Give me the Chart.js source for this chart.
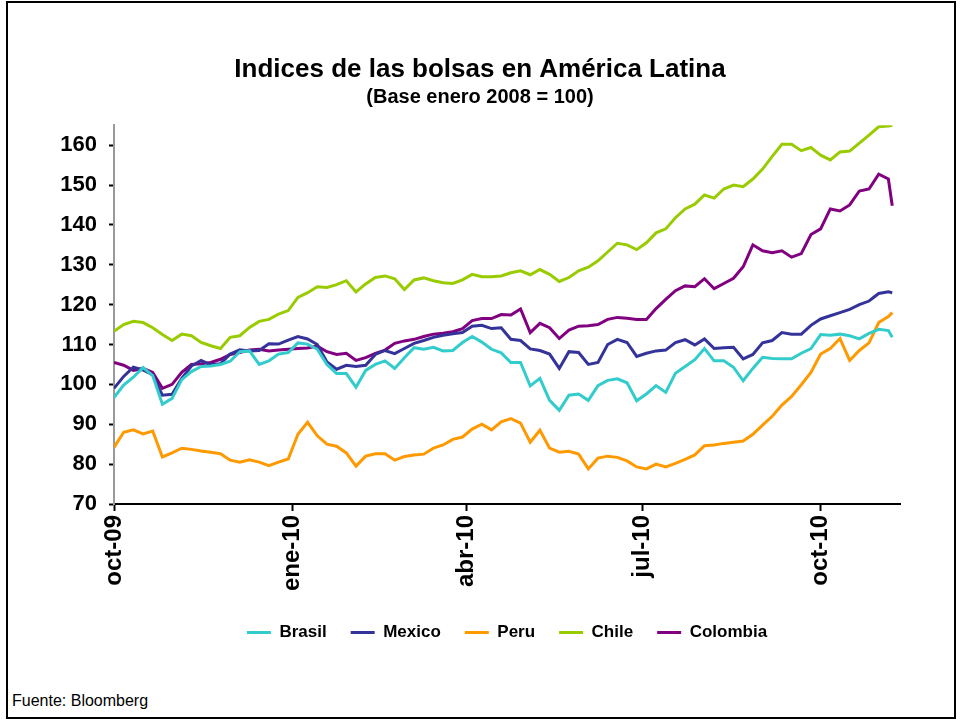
<!DOCTYPE html>
<html>
<head>
<meta charset="utf-8">
<script src="https://cdn.jsdelivr.net/npm/chart.js@4.4.0/dist/chart.umd.min.js"></script>
<style>
    html, body { margin: 0; padding: 0; background: #fff; }
    #marco { position: absolute; left: 6px; top: 1px; width: 946px; height: 714px; border: 2px solid #000; }
    #caja { position: absolute; left: 0; top: 0; width: 960px; height: 651px; }
    #fuente { position: absolute; left: 12px; top: 692px; font: 16px "Liberation Sans", Arial, sans-serif; color: #000; }
</style>
</head>
<body>
<div id="marco"></div>
<div id="caja"><canvas id="grafico" width="960" height="651"></canvas></div>
<div id="fuente">Fuente: Bloomberg</div>
<script>
// dias desde el 1 de octubre de 2009
const dias = [0, 5, 10, 15, 20, 25, 30, 35, 40, 45, 50, 55, 60, 65, 70, 75, 80, 85, 90, 95,
    100, 105, 110, 115, 120, 125, 130, 135, 140, 145, 150, 155, 160, 165, 170, 175, 180, 185, 190, 195,
    200, 205, 210, 215, 220, 225, 230, 235, 240, 245, 250, 255, 260, 265, 270, 275, 280, 285, 290, 295,
    300, 305, 310, 315, 320, 325, 330, 335, 340, 345, 350, 355, 360, 365, 370, 375, 380, 385, 390, 395,
    400, 402];

const diasEtiqueta = [0, 92, 182, 273, 365];
const etiquetasFecha = ['oct-09', 'ene-10', 'abr-10', 'jul-10', 'oct-10'];

const brasil = [96.7, 99.8, 101.8, 104.2, 102.2, 95, 96.5, 101.2, 103.2, 104.5,
    104.6, 105, 105.8, 108.2, 108.4, 105, 105.9, 107.6, 108, 110.4,
    110.1, 108.8, 105, 102.7, 102.7, 99.3, 103.5, 105, 105.9, 104,
    106.7, 109.2, 108.8, 109.3, 108.4, 108.5, 110.5, 112, 110.6, 108.8,
    107.9, 105.5, 105.5, 99.6, 101.5, 96, 93.5, 97.3, 97.6, 96,
    99.7, 101, 101.4, 100.4, 95.9, 97.6, 99.7, 98, 102.8, 104.5,
    106.2, 109, 105.9, 105.9, 104.3, 100.9, 104, 106.8, 106.5, 106.4,
    106.4, 107.8, 109, 112.5, 112.3, 112.6, 112.2, 111.4, 112.8, 113.8,
    113.5, 111.8];

const mexico = [99, 102, 104.3, 103.6, 102.4, 97.3, 97.5, 101.5, 104.6, 106,
    104.9, 105.2, 107.6, 108.7, 108.4, 108.5, 110.2, 110.1, 111.1, 112,
    111.4, 110, 105.6, 103.8, 104.8, 104.5, 104.8, 107.5, 108.5, 107.7,
    109, 110.3, 111, 111.8, 112.3, 112.7, 113, 114.6, 114.8, 114,
    114.2, 111.3, 111, 108.9, 108.5, 107.6, 104, 108.2, 108, 105,
    105.5, 110, 111.3, 110.5, 107, 107.8, 108.4, 108.6, 110.5, 111.2,
    109.9, 111.4, 109, 109.2, 109.3, 106.4, 107.5, 110.4, 111, 113,
    112.6, 112.6, 114.8, 116.4, 117.2, 118, 118.8, 120, 120.9, 122.8,
    123.2, 123];

const peru = [84.2, 88, 88.6, 87.6, 88.3, 81.8, 82.8, 84, 83.7, 83.3,
    83, 82.6, 81, 80.5, 81.1, 80.5, 79.6, 80.5, 81.3, 87.5,
    90.5, 87.1, 85, 84.5, 82.8, 79.5, 82, 82.6, 82.6, 81,
    81.9, 82.3, 82.5, 84, 84.8, 86.2, 86.8, 88.8, 90, 88.6,
    90.6, 91.4, 90.3, 85.5, 88.5, 84, 83, 83.2, 82.5, 78.8,
    81.5, 82, 81.7, 80.8, 79.3, 78.8, 80, 79.3, 80.2, 81.2,
    82.3, 84.6, 84.8, 85.2, 85.5, 85.8, 87.5, 89.8, 92, 94.8,
    97, 99.9, 103, 107.6, 109, 111.5, 106, 108.5, 110.4, 115.5,
    117, 118];

const chile = [113.3, 115, 115.8, 115.5, 114.2, 112.5, 111, 112.6, 112.2, 110.5,
    109.7, 109, 111.8, 112.2, 114.3, 115.8, 116.3, 117.6, 118.5, 121.8,
    123, 124.5, 124.3, 125, 126, 123.2, 125.2, 126.8, 127.2, 126.5,
    123.8, 126.2, 126.7, 126, 125.5, 125.3, 126.2, 127.6, 127, 127,
    127.2, 128, 128.5, 127.5, 128.8, 127.6, 125.8, 126.8, 128.5, 129.4,
    131, 133.2, 135.4, 135, 133.8, 135.5, 138, 139, 141.8, 144,
    145.2, 147.5, 146.7, 149, 150, 149.6, 151.5, 154, 157.2, 160.2,
    160.2, 158.6, 159.4, 157.5, 156.3, 158.3, 158.5, 160.5, 162.5, 164.6,
    164.8, 165];

const colombia = [105.5, 104.8, 103.5, 104, 103, 99, 100, 103, 105, 105.2,
    105.5, 106.3, 107.5, 108, 108.6, 108.8, 108.4, 108.6, 108.8, 109,
    109.1, 109.6, 108.2, 107.5, 107.8, 106, 106.7, 107.8, 108.6, 110.3,
    110.9, 111.3, 112, 112.6, 112.8, 113.2, 114, 116, 116.5, 116.5,
    117.5, 117.4, 118.9, 113, 115.3, 114.2, 111.5, 113.6, 114.6, 114.7,
    115, 116.3, 116.8, 116.6, 116.3, 116.3, 119, 121.3, 123.5, 124.7,
    124.5, 126.5, 124, 125.3, 126.6, 129.5, 135, 133.5, 133, 133.5,
    131.9, 132.8, 137.6, 139, 144, 143.5, 145, 148.5, 149, 152.7,
    151.5, 144.8];

const nombres = ['Brasil', 'Mexico', 'Peru', 'Chile', 'Colombia'];
const colores = ['#33cccc', '#333399', '#ff9900', '#99cc00', '#800080'];
const valores = [brasil, mexico, peru, chile, colombia];

Chart.defaults.font.family = '"Liberation Sans", Arial, sans-serif';
Chart.defaults.color = '#000';

const datasets = nombres.map((nombre, i) => ({
    label: nombre,
    data: dias.map((d, j) => ({ x: d, y: valores[i][j] })),
    borderColor: colores[i],
    backgroundColor: colores[i],
    borderWidth: 3,
    pointRadius: 0,
    tension: 0,
    fill: false
}));

const ctx = document.getElementById('grafico').getContext('2d');

new Chart(ctx, {
    type: 'line',
    data: { datasets: datasets },
    options: {
        responsive: false,
        animation: false,
        layout: {
            padding: { left: 60, right: 60, top: 0, bottom: 0 }
        },
        plugins: {
            title: {
                display: true,
                text: 'Indices de las bolsas en América Latina',
                font: { size: 26, weight: 'bold' },
                padding: { top: 54, bottom: 0 }
            },
            subtitle: {
                display: true,
                text: '(Base enero 2008 = 100)',
                font: { size: 20, weight: 'bold' },
                padding: { top: 0, bottom: 16 }
            },
            legend: {
                position: 'bottom',
                fullSize: false,
                labels: {
                    usePointStyle: true,
                    pointStyle: 'line',
                    pointStyleWidth: 24,
                    font: { size: 17, weight: 'bold' },
                    padding: 24
                }
            },
            tooltip: { enabled: false }
        },
        scales: {
            x: {
                type: 'linear',
                min: 0,
                max: 406,
                afterBuildTicks: function(scale) {
                    scale.ticks = diasEtiqueta.map(v => ({ value: v }));
                },
                afterFit: function(scale) {
                    scale.height = 96;
                },
                ticks: {
                    autoSkip: false,
                    minRotation: 90,
                    maxRotation: 90,
                    padding: 4,
                    font: { size: 24, weight: 'bold' },
                    callback: function(value, index) {
                        return etiquetasFecha[index];
                    }
                },
                grid: {
                    drawOnChartArea: false,
                    tickLength: 7,
                    tickColor: '#000',
                    tickWidth: 2
                },
                border: { color: '#000', width: 2 }
            },
            y: {
                min: 70,
                max: 165,
                afterFit: function(scale) {
                    scale.width = 54;
                },
                ticks: {
                    stepSize: 10,
                    includeBounds: false,
                    padding: 12,
                    font: { size: 22, weight: 'bold' }
                },
                grid: {
                    drawOnChartArea: false,
                    tickLength: 5,
                    tickColor: '#000',
                    tickWidth: 2
                },
                border: { color: '#999', width: 2 }
            }
        }
    }
});
</script>
</body>
</html>
